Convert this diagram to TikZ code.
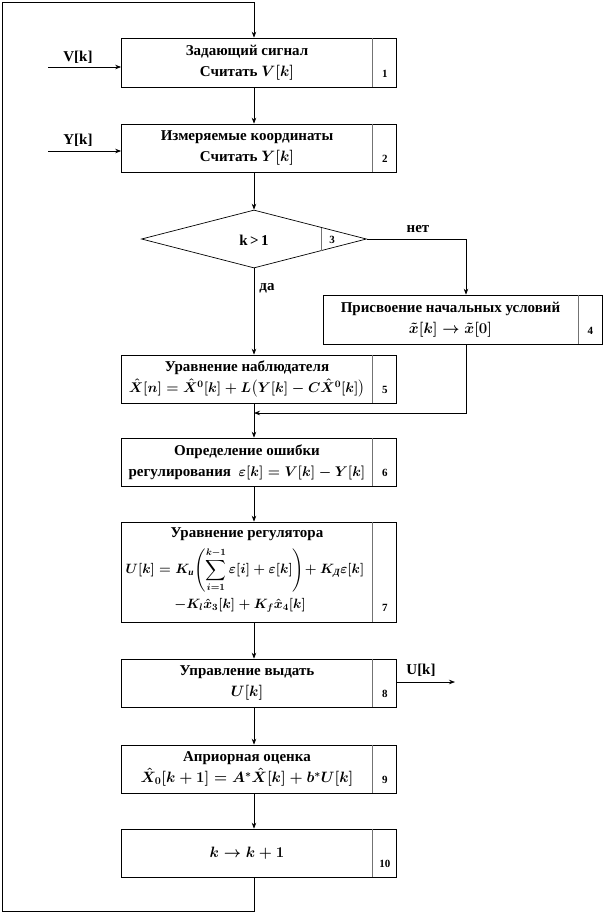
\RequirePackage{fix-cm}
\documentclass[tikz,border=0pt]{standalone}
\usepackage{amsmath}
\usepackage{fontspec}
\setmainfont{Liberation Serif}
\usetikzlibrary{shapes.geometric,arrows.meta,calc}
\tikzset{
  box/.style={draw, line width=0.7pt, minimum width=275pt, inner sep=0pt},
  txt/.style={align=center, inner sep=0pt, font=\fontsize{15}{21}\selectfont\bfseries\boldmath},
  ftxt/.style={align=center, inner sep=0pt, font=\fontsize{13.5}{16}\selectfont\bfseries\boldmath},
  sepline/.style={draw=black!55, line width=0.9pt},
  num/.style={inner sep=0pt, font=\fontsize{11}{11}\selectfont\bfseries},
  ln/.style={line width=0.7pt},
  arr/.style={line width=0.7pt, -{Stealth[length=6pt,width=4.5pt]}},
  lbl/.style={inner sep=0pt, font=\fontsize{15}{15}\selectfont\bfseries},
}
\newcommand\mkbox[6]{% name, center, width, height, number, text
  \node[box, minimum width=#3, minimum height=#4] (#1) at #2 {};
  \node[txt] (#1t) at ($(#1.center)+(-12,0)$) {#6};
  \draw[sepline] ($(#1.north east)+(-24,0)$) -- ($(#1.south east)+(-24,0)$);
  \node[num] (#1n) at ($(#1.south east)+(-12,-13)$) {#5};
}
\newcommand\fsm{\fontsize{14}{21}\selectfont}
\begin{document}
\begin{tikzpicture}[x=1pt,y=-1pt]
\fill[white] (0,0) rectangle (614,914);
\useasboundingbox (0,0) rectangle (614,914);

\coordinate (ax) at (254,0);
\coordinate (c4) at (466,0);

\mkbox{b1}{(259,62.5)}{275pt}{49pt}{1}{Задающий сигнал\\Считать $V[k]$}
\mkbox{b2}{(259,148)}{275pt}{48pt}{2}{Измеряемые координаты\\Считать $Y[k]$}

\node[diamond, draw, line width=0.7pt, minimum width=225pt, minimum height=58pt, inner sep=0pt, aspect=3.9] (d3) at (254,239) {};
\node[txt] (d3t) at (254,240) {k\,>\,1};
\draw[sepline] ($(d3.center)+(67,-11.5)$) -- ($(d3.center)+(67,11.5)$);
\node[num] (d3n) at ($(d3.center)+(78,1)$) {3};

\mkbox{b4}{(462.5,319.5)}{279pt}{49pt}{4}{Присвоение начальных условий\\$\tilde{x}[k]\rightarrow\tilde{x}[0]$}
\mkbox{b5}{(259,379)}{275pt}{48pt}{5}{Уравнение наблюдателя\\{\fsm$\hat{X}[n]=\hat{X}^0[k]+L\bigl(Y[k]-C\hat{X}^0[k]\bigr)$}}
\mkbox{b6}{(259,462)}{275pt}{48pt}{6}{Определение ошибки\\регулирования\ \ {\fsm$\varepsilon[k]=V[k]-Y[k]$}}

% box 7 with three separately placed lines
\node[box, minimum height=100pt] (b7) at (259,572) {};
\node[txt] (b7a) at (247,534) {Уравнение регулятора};
\node[ftxt] (b7b) at (245,570) {$U[k]=K_{\text{\itshape и}}\!\left(\displaystyle\sum_{i=1}^{k-1}\varepsilon[i]+\varepsilon[k]\right)\!+K_{\text{\itshape Д}}\varepsilon[k]$};
\node[ftxt] (b7c) at (240,605) {$-K_l\hat{x}_3[k]+K_f\hat{x}_4[k]$};
\draw[sepline] ($(b7.north east)+(-24,0)$) -- ($(b7.south east)+(-24,0)$);
\node[num] (b7n) at ($(b7.south east)+(-12,-14)$) {7};

\mkbox{b8}{(259,683)}{275pt}{48pt}{8}{Управление выдать\\$U[k]$}
\mkbox{b9}{(259,769)}{275pt}{48pt}{9}{Априорная оценка\\$\hat{X}_0[k+1]=A^*\hat{X}[k]+b^*U[k]$}
\mkbox{b10}{(259,853)}{275pt}{48pt}{10}{$k\rightarrow k+1$}

% main flow
\draw[arr] (b1.south -| ax) -- (b2.north -| ax);
\draw[arr] (b2.south -| ax) -- (d3.north);
\draw[arr] (d3.south) -- (b5.north -| ax);
\draw[arr] (b5.south -| ax) -- (b6.north -| ax);
\draw[arr] (b6.south -| ax) -- (b7.north -| ax);
\draw[arr] (b7.south -| ax) -- (b8.north -| ax);
\draw[arr] (b8.south -| ax) -- (b9.north -| ax);
\draw[arr] (b9.south -| ax) -- (b10.north -| ax);

% branch "нет"
\draw[arr] (d3.east) -| (b4.north -| c4);
\node[lbl] (net) at (418,229) {нет};
\node[lbl] (da) at (267,288) {да};
\coordinate (jn) at (254,413);
\draw[arr] (b4.south -| c4) |- (jn);

% loop back
\coordinate (lb) at (2,911);
\coordinate (lt) at (2,2);
\draw[arr] (b10.south -| ax) |- (lb) -- (lt) -| (b1.north -| ax);

% inputs / output
\coordinate (vin) at (48,67);
\draw[arr] (vin) -- (vin -| b1.west);
\node[lbl] (vl) at (78,57) {V[k]};
\coordinate (yin) at (48,151);
\draw[arr] (yin) -- (yin -| b2.west);
\node[lbl] (yl) at (78,140) {Y[k]};
\coordinate (uo) at (455,682);
\draw[arr] (uo -| b8.east) -- (uo);
\node[lbl] (ul) at (421,670) {U[k]};
\end{tikzpicture}
\end{document}
